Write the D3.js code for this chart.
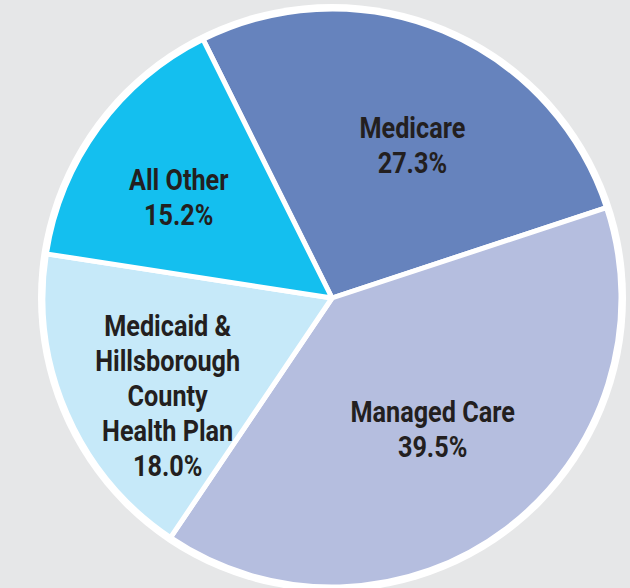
<!DOCTYPE html>
<html>
<head>
<meta charset="utf-8">
<script src="https://cdn.jsdelivr.net/npm/d3@7"></script>
<style>
  body { margin: 0; background: #e6e7e8; }
  svg { display: block; }
  .lbl { font-family: "Roboto", "Liberation Sans", sans-serif; font-weight: bold; fill: #231f20; }
</style>
</head>
<body>
<div id="chart"></div>
<script>
// Slice data, clockwise from the top-left
const categories = ["Medicare", "Managed Care", "Medicaid & Hillsborough County Health Plan", "All Other"];
const labelLines = [["Medicare"], ["Managed Care"], ["Medicaid &", "Hillsborough", "County", "Health Plan"], ["All Other"]];
const shares = [27.3, 39.5, 18.0, 15.2];
const colors = ["#6683bd", "#b5bedf", "#c6e9f9", "#14bfef"];

const width = 630;
const height = 588;
const cx = 332, cy = 298;
const radius = 289;
const lineH = 35;

// hand nudges so the labels sit where the original put them
const labelNudge = {
  "Medicare": [13, 9],
  "Managed Care": [-5, -8],
  "Medicaid & Hillsborough County Health Plan": [-4, 28],
  "All Other": [-12, 3]
};

const svg = d3.select("#chart")
  .append("svg")
    .attr("width", width)
    .attr("height", height)
    .attr("viewBox", [0, 0, width, height]);

svg.append("rect")
    .attr("width", width)
    .attr("height", height)
    .attr("fill", "#e6e7e8");

const g = svg.append("g")
    .attr("transform", `translate(${cx},${cy})`);

const data = categories.map((c, i) => ({ name: c, value: shares[i], lines: labelLines[i], color: colors[i] }));

const pie = d3.pie()
    .sort(null)
    .value(d => d.value)
    .startAngle(-26.5 * Math.PI / 180)
    .endAngle((360 - 26.5) * Math.PI / 180);

const arc = d3.arc().innerRadius(0).outerRadius(radius);
const labelArc = d3.arc().innerRadius(175).outerRadius(175);

// white rim round the whole pie
g.append("circle")
    .attr("r", radius + 5)
    .attr("fill", "#fff");

const arcs = pie(data);

g.selectAll("path")
  .data(arcs)
  .join("path")
    .attr("d", arc)
    .attr("fill", d => d.data.color)
    .attr("stroke", "#fff")
    .attr("stroke-width", 5)
    .attr("stroke-linejoin", "round");

const labels = g.selectAll("text.lbl")
  .data(arcs)
  .join("text")
    .attr("class", "lbl")
    .attr("text-anchor", "middle")
    .attr("font-size", 29)
    .attr("transform", d => {
      const [x, y] = labelArc.centroid(d);
      const [nx, ny] = labelNudge[d.data.name];
      return `translate(${x + nx},${y + ny}) scale(0.87,1)`;
    });

labels.each(function(d) {
  const lines = d.data.lines.concat([d.data.value.toFixed(1) + "%"]);
  const y0 = -(lines.length - 1) * lineH / 2 + 10;
  d3.select(this).selectAll("tspan")
    .data(lines)
    .join("tspan")
      .attr("x", 0)
      .attr("y", (t, i) => y0 + i * lineH)
      .text(t => t);
});
</script>
</body>
</html>
